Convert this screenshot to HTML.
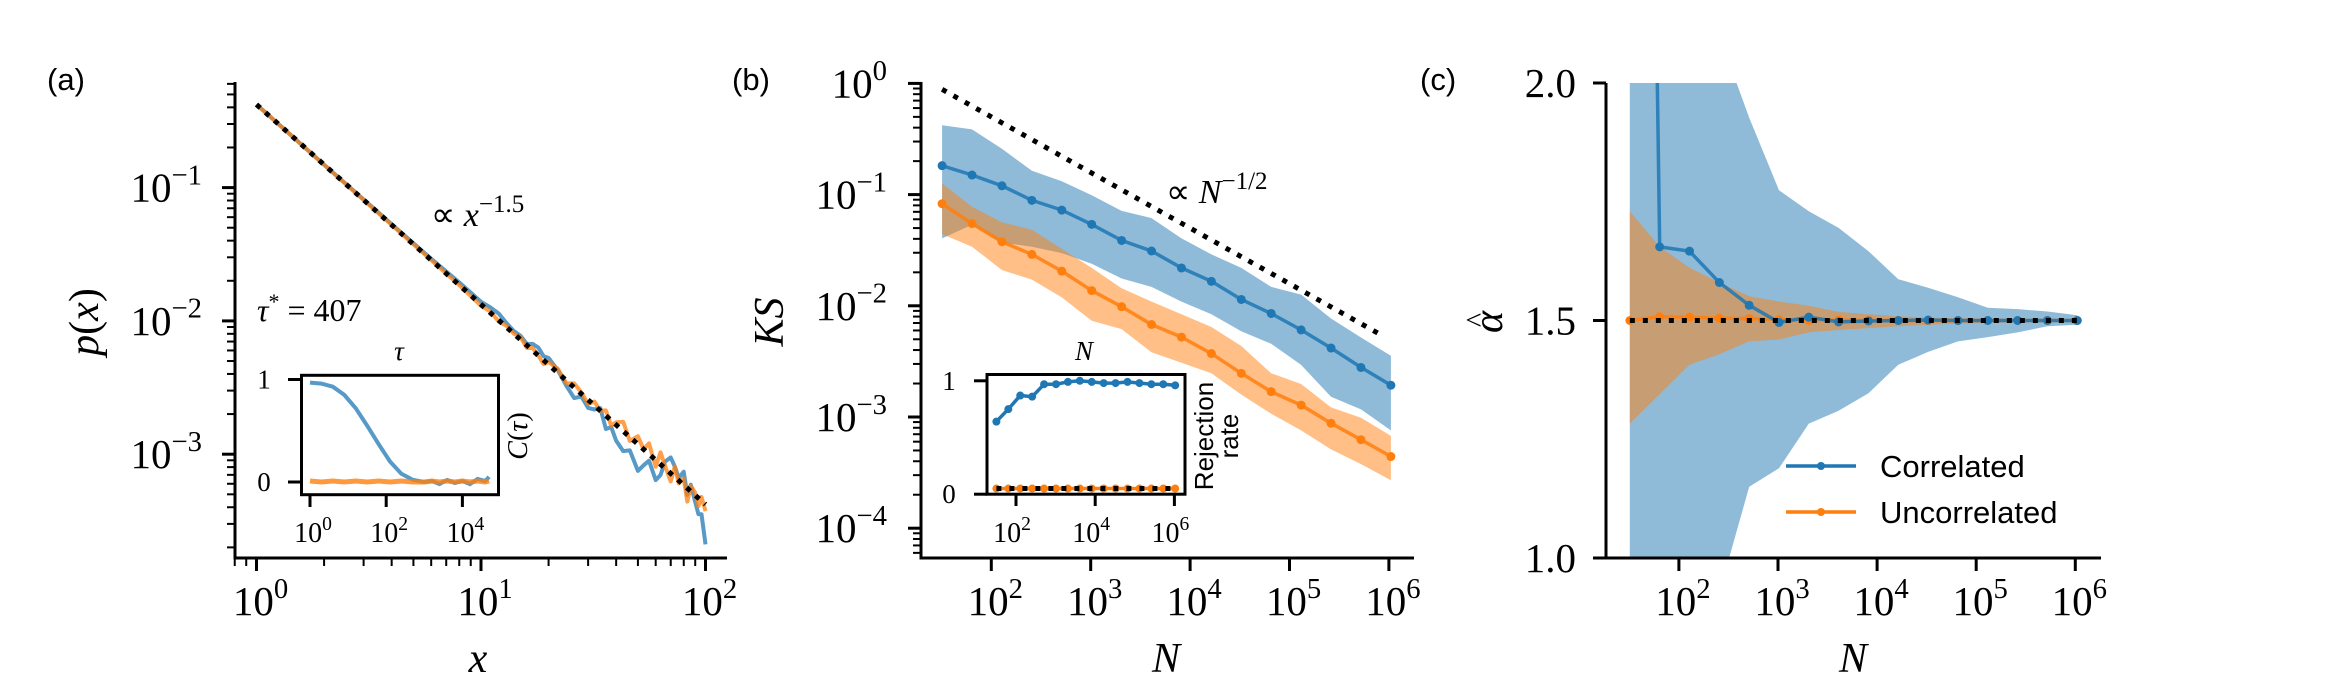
<!DOCTYPE html>
<html><head><meta charset="utf-8"><style>
html,body{margin:0;padding:0;background:#fff;width:2328px;height:698px;overflow:hidden;}
svg{display:block;}
text{font-family:"Liberation Serif",serif;fill:#000;}
.sans{font-family:"Liberation Sans",sans-serif;}
</style></head><body>
<svg id="fig" width="2328" height="698" viewBox="0 0 2328 698" xmlns="http://www.w3.org/2000/svg">
<defs>
<clipPath id="clipA"><rect x="235" y="82" width="492" height="476"/></clipPath>
<clipPath id="clipB"><rect x="921" y="82" width="493" height="476"/></clipPath>
<clipPath id="clipC"><rect x="1606" y="83" width="495" height="475"/></clipPath>
<clipPath id="clipIA"><rect x="301.5" y="375.3" width="197" height="119.4"/></clipPath>
<clipPath id="clipIB"><rect x="987" y="374.5" width="198" height="119.7"/></clipPath>
</defs>
</svg>
<script>
// ---------- DATA ----------
// Panel (a): p(x)
const xA = [1,2,4,6,8,10,11,12,13,14,15,16,17,18,19,20,22,24,26,28,30,32,34,36,38,40,43,46,50,53,56,60,63,66,70,73,76,80,83,86,90,93,96,100];
const pBlueDev = [0,0,0.005,0.01,0.02,0.02,0.04,0.05,0.03,0.02,0.03,0.01,0.05,0.06,0.03,0.05,0.02,-0.04,-0.08,-0.02,-0.06,-0.03,0.02,-0.1,-0.05,-0.12,-0.15,-0.1,-0.2,-0.12,-0.05,-0.15,-0.08,0.05,0.12,0.08,0.02,0.1,-0.05,0.05,-0.05,-0.12,-0.1,-0.3];
const pOrangeDev = [0,0,0,0,0,-0.01,0.01,-0.01,0.01,0.0,0.02,-0.02,0.02,0.0,-0.03,0.02,0.03,-0.02,0.03,0.01,-0.03,0.03,0.0,0.04,-0.04,0.02,0.07,-0.03,0.06,0.0,0.08,-0.05,0.09,0.02,-0.06,0.08,-0.02,0.05,-0.1,0.04,0.02,-0.06,0.03,-0.05];
const pLawA = 0.42, pLawExp = -1.5;
// Inset (a): autocorrelation
const tauLog = [0,0.3,0.6,0.9,1.2,1.5,1.8,2.1,2.4,2.7,3.0,3.2,3.4,3.6,3.8,4.0,4.2,4.4,4.6,4.7];
const cBlue = [0.97,0.96,0.93,0.85,0.72,0.55,0.37,0.2,0.08,0.02,0.0,0.01,-0.02,0.02,-0.01,0.01,-0.02,0.03,0.01,0.05];
const cOrange = [0.01,0.0,0.01,0.0,0.01,0.0,0.01,0.0,0.01,0.0,0.0,0.01,0.0,0.01,0.0,0.01,0.0,0.01,0.0,0.01];
// Panel (b): KS statistic vs N
const nLog = [1.505,1.806,2.107,2.408,2.709,3.010,3.311,3.612,3.913,4.214,4.515,4.816,5.117,5.418,5.719,6.020];
const ksBlue = [0.182,0.150,0.120,0.0888,0.0726,0.0540,0.0387,0.0311,0.0219,0.0166,0.0114,0.00853,0.00607,0.00417,0.00279,0.00193];
const ksBlueHi = [0.421,0.386,0.258,0.164,0.132,0.0986,0.0713,0.0615,0.0404,0.0290,0.0219,0.0148,0.0126,0.00768,0.00519,0.00356];
const ksBlueLo = [0.0404,0.0535,0.0370,0.0340,0.0298,0.0239,0.0176,0.0148,0.0109,0.00838,0.00590,0.00455,0.00294,0.00152,0.00117,0.000757];
const ksOrange = [0.0828,0.0549,0.0377,0.0290,0.0205,0.0137,0.00982,0.00679,0.00523,0.00372,0.00247,0.00169,0.00128,0.000879,0.000625,0.000441];
const ksOrangeHi = [0.126,0.0778,0.0564,0.0482,0.0325,0.0219,0.0144,0.0109,0.00838,0.00645,0.00435,0.00247,0.00198,0.00122,0.000984,0.000676];
const ksOrangeLo = [0.0441,0.0340,0.0210,0.0172,0.0119,0.00735,0.00617,0.00382,0.00307,0.00247,0.00159,0.00107,0.000757,0.000511,0.000377,0.000270];
const ksLawC = 5.0, ksLawRange = [1.505, 5.93];
// Inset (b): rejection rate
const rejBlue = [0.64,0.75,0.87,0.86,0.97,0.97,0.99,1.0,0.99,0.98,0.98,0.99,0.98,0.97,0.97,0.96];
const rejOrange = [0.05,0.05,0.05,0.05,0.05,0.05,0.05,0.05,0.05,0.05,0.05,0.05,0.05,0.05,0.05,0.05];
const rejLevel = 0.05;
// Panel (c): alpha hat
const aBlue = [6.0,1.655,1.646,1.580,1.532,1.496,1.507,1.497,1.499,1.500,1.501,1.500,1.500,1.500,1.500,1.500];
const aBlueHi = [2.6,2.4,2.25,2.10,1.927,1.774,1.730,1.695,1.646,1.587,1.569,1.549,1.527,1.524,1.519,1.511];
const aBlueLo = [0.5,0.6,0.8,0.927,1.150,1.189,1.283,1.310,1.347,1.407,1.434,1.456,1.465,1.475,1.488,1.491];
const aOrange = [1.500,1.508,1.507,1.505,1.504,1.502,1.500,1.501,1.500,1.500,1.500,1.500,1.500,1.500,1.500,1.500];
const aOrangeHi = [1.730,1.655,1.611,1.580,1.551,1.540,1.531,1.518,1.513,1.509,1.506,1.505,1.504,1.503,1.502,1.502];
const aOrangeLo = [1.283,1.345,1.407,1.429,1.456,1.460,1.475,1.480,1.484,1.488,1.491,1.493,1.495,1.496,1.497,1.498];
const aTrue = 1.5;

// ---------- HELPERS ----------
const NS = "http://www.w3.org/2000/svg";
const svg = document.getElementById('fig');
const BLUE = "#1f77b4", ORANGE = "#ff7f0e";
function mk(tag, attrs, parent) {
  const e = document.createElementNS(NS, tag);
  for (const k in attrs) e.setAttribute(k, attrs[k]);
  (parent || svg).appendChild(e);
  return e;
}
function group(name, parent) {
  const g = mk('g', {}, parent);
  
  
  return g;
}
function pts(xs, ys) { return xs.map((x, i) => x.toFixed(1) + ',' + ys[i].toFixed(1)).join(' '); }
function powText(parent, x, y, exp, size, anchor) {
  const t = mk('text', {x: x, y: y, 'font-size': size, 'text-anchor': anchor}, parent);
  const a = mk('tspan', {}, t); a.textContent = '10';
  const b = mk('tspan', {dy: -size * 0.42, 'font-size': size * 0.7}, t); b.textContent = exp;
  return t;
}
const L10 = Math.log10;

// ---------- PANEL A ----------
const XA = x => 256.5 + 224.5 * L10(x);
const YA = p => 187.6 - 133.3 * (L10(p) + 1);
const gA = group('panel-a');
let t = mk('text', {x: 47, y: 90, 'font-size': 31, class: 'sans'}, gA); t.textContent = '(a)';
 
const curvesA = mk('g', {'clip-path': 'url(#clipA)'}, gA);
const law = x => pLawA * Math.pow(x, pLawExp);
let e = mk('polyline', {points: pts(xA.map(XA), xA.map((x, i) => YA(law(x) * Math.pow(10, pBlueDev[i])))), fill: 'none', stroke: BLUE, 'stroke-opacity': 0.75, 'stroke-width': 4, 'stroke-linejoin': 'round'}, curvesA);
 
e = mk('polyline', {points: pts(xA.map(XA), xA.map((x, i) => YA(law(x) * Math.pow(10, pOrangeDev[i])))), fill: 'none', stroke: ORANGE, 'stroke-opacity': 0.75, 'stroke-width': 4, 'stroke-linejoin': 'round'}, curvesA);
 
e = mk('line', {x1: XA(1), y1: YA(law(1)), x2: XA(100), y2: YA(law(100)), stroke: '#000', 'stroke-width': 5, 'stroke-dasharray': '5 7'}, curvesA);
 
e = mk('path', {d: 'M235,82 V558 H727', fill: 'none', stroke: '#000', 'stroke-width': 3}, gA);
 
const tkA = group('panel-a-ticks', gA);
for (let d = -1; d <= 2; d++) for (let m = 1; m <= 9; m++) {
  const v = m * Math.pow(10, d), x = XA(v);
  if (x < 234 || x > 728) continue;
  mk('line', {x1: x, y1: 558, x2: x, y2: m === 1 ? 571 : 566, stroke: '#000', 'stroke-width': m === 1 ? 3 : 2}, tkA);
}
for (let d = -4; d <= 0; d++) for (let m = 1; m <= 9; m++) {
  const v = m * Math.pow(10, d), y = YA(v);
  if (y < 81 || y > 559) continue;
  mk('line', {x1: 235, y1: y, x2: m === 1 ? 222 : 227, y2: y, stroke: '#000', 'stroke-width': m === 1 ? 3 : 2}, tkA);
}
[0, 1, 2].forEach(d => { const tt = powText(gA, XA(Math.pow(10, d)) + 4, 615, String(d), 41, 'middle');   });
[-1, -2, -3].forEach(d => { const tt = powText(gA, 202, YA(Math.pow(10, d)) + 14, '\u2212' + (-d), 41, 'end');   });
t = mk('text', {x: 478, y: 672, 'font-size': 42, 'font-style': 'italic', 'text-anchor': 'middle'}, gA); t.textContent = 'x';
 
t = mk('text', {x: 0, y: 0, 'font-size': 42, 'text-anchor': 'middle', transform: 'translate(98,322) rotate(-90)'}, gA);
t.innerHTML = '<tspan font-style="italic">p</tspan>(<tspan font-style="italic">x</tspan>)';
 
t = mk('text', {x: 431, y: 226, 'font-size': 34}, gA);
t.innerHTML = '\u221D <tspan font-style="italic">x</tspan><tspan dy="-14" font-size="25">\u22121.5</tspan>';
 
t = mk('text', {x: 257, y: 321, 'font-size': 32}, gA);
t.innerHTML = '<tspan font-style="italic">\u03C4</tspan><tspan dy="-12" font-size="22">*</tspan><tspan dy="12"> = 407</tspan>';
 

// inset A
const XIA = l => 310 + 38.1 * l;
const YIA = c => 482 - 102.5 * c;
const gIA = group('inset-a', gA);
const ciA = mk('g', {'clip-path': 'url(#clipIA)'}, gIA);
e = mk('polyline', {points: pts(tauLog.map(XIA), cBlue.map(YIA)), fill: 'none', stroke: BLUE, 'stroke-opacity': 0.75, 'stroke-width': 4}, ciA);
 
e = mk('polyline', {points: pts(tauLog.map(XIA), cOrange.map(YIA)), fill: 'none', stroke: ORANGE, 'stroke-opacity': 0.8, 'stroke-width': 5}, ciA);
 
e = mk('rect', {x: 301.5, y: 375.3, width: 197, height: 119.4, fill: 'none', stroke: '#000', 'stroke-width': 3}, gIA);
 
[0, 2, 4].forEach(d => { mk('line', {x1: XIA(d), y1: 494.7, x2: XIA(d), y2: 507, stroke: '#000', 'stroke-width': 3}, gIA); const tt = powText(gIA, XIA(d) + 3, 542, String(d), 28, 'middle');   });
[[1, '1'], [0, '0']].forEach(([v, s]) => { mk('line', {x1: 301.5, y1: YIA(v), x2: 288, y2: YIA(v), stroke: '#000', 'stroke-width': 3}, gIA); const tt = mk('text', {x: 264, y: YIA(v) + 9, 'font-size': 27, 'text-anchor': 'middle'}, gIA); tt.textContent = s;   });
t = mk('text', {x: 399, y: 360, 'font-size': 27, 'font-style': 'italic', 'text-anchor': 'middle'}, gIA); t.textContent = '\u03C4';
 
t = mk('text', {x: 0, y: 0, 'font-size': 28, 'text-anchor': 'middle', transform: 'translate(527,436) rotate(-90)'}, gIA);
t.innerHTML = '<tspan font-style="italic">C</tspan>(<tspan font-style="italic">\u03C4</tspan>)';
 

// ---------- PANEL B ----------
const XB = l => 991.3 + 99.4 * (l - 2);
const YB = v => 83.4 - 111.2 * L10(v);
const gB = group('panel-b');
t = mk('text', {x: 732, y: 90, 'font-size': 31, class: 'sans'}, gB); t.textContent = '(b)';
 
const cB = mk('g', {'clip-path': 'url(#clipB)'}, gB);
e = mk('polygon', {points: pts(nLog.map(XB).concat(nLog.map(XB).reverse()), ksBlueHi.map(YB).concat(ksBlueLo.map(YB).reverse())), fill: BLUE, 'fill-opacity': 0.5}, cB);
 
e = mk('polygon', {points: pts(nLog.map(XB).concat(nLog.map(XB).reverse()), ksOrangeHi.map(YB).concat(ksOrangeLo.map(YB).reverse())), fill: ORANGE, 'fill-opacity': 0.5}, cB);
 
e = mk('line', {x1: XB(ksLawRange[0]), y1: YB(ksLawC * Math.pow(10, -ksLawRange[0] / 2)), x2: XB(ksLawRange[1]), y2: YB(ksLawC * Math.pow(10, -ksLawRange[1] / 2)), stroke: '#000', 'stroke-width': 5, 'stroke-dasharray': '5 8'}, cB);
 
[[ksBlue, BLUE, 'ks-correlated'], [ksOrange, ORANGE, 'ks-uncorrelated']].forEach(([arr, col, nm]) => {
  const g = mk('g', {}, cB);
  const pl = mk('polyline', {points: pts(nLog.map(XB), arr.map(YB)), fill: 'none', stroke: col, 'stroke-opacity': 0.85, 'stroke-width': 3.5}, g);
   
  arr.forEach((v, i) => { const c = mk('circle', {cx: XB(nLog[i]), cy: YB(v), r: 4.5, fill: col}, g);   });
});
e = mk('path', {d: 'M921,82 V558 H1414', fill: 'none', stroke: '#000', 'stroke-width': 3}, gB);
 
const tkB = group('panel-b-ticks', gB);
for (let d = 2; d <= 6; d++) mk('line', {x1: XB(d), y1: 558, x2: XB(d), y2: 571, stroke: '#000', 'stroke-width': 3}, tkB);
for (let d = -5; d <= 0; d++) for (let m = 1; m <= 9; m++) {
  const y = YB(m * Math.pow(10, d));
  if (y < 81 || y > 559) continue;
  mk('line', {x1: 921, y1: y, x2: m === 1 ? 908 : 913, y2: y, stroke: '#000', 'stroke-width': m === 1 ? 3 : 2}, tkB);
}
[2, 3, 4, 5, 6].forEach(d => { const tt = powText(gB, XB(d) + 4, 615, String(d), 41, 'middle');   });
[0, -1, -2, -3, -4].forEach(d => { const tt = powText(gB, 887, YB(Math.pow(10, d)) + 14, d === 0 ? '0' : '\u2212' + (-d), 41, 'end');   });
t = mk('text', {x: 1166, y: 672, 'font-size': 42, 'font-style': 'italic', 'text-anchor': 'middle'}, gB); t.textContent = 'N';
 
t = mk('text', {x: 0, y: 0, 'font-size': 42, 'font-style': 'italic', 'text-anchor': 'middle', transform: 'translate(783,322) rotate(-90)'}, gB); t.textContent = 'KS';
 
t = mk('text', {x: 1166, y: 203, 'font-size': 34}, gB);
t.innerHTML = '\u221D <tspan font-style="italic">N</tspan><tspan dy="-14" font-size="25">\u22121/2</tspan>';
 
// inset B
const XIB = l => 1016 + 39.6 * (l - 2);
const YIB = v => 494.2 - 113.4 * v;
const gIB = group('inset-b', gB);
const ciB = mk('g', {'clip-path': 'url(#clipIB)'}, gIB);
[[rejBlue, BLUE, 'rejection-correlated'], [rejOrange, ORANGE, 'rejection-uncorrelated']].forEach(([arr, col, nm]) => {
  const pl = mk('polyline', {points: pts(nLog.map(XIB), arr.map(YIB)), fill: 'none', stroke: col, 'stroke-width': 3.5}, ciB);
   
  arr.forEach((v, i) => { const c = mk('circle', {cx: XIB(nLog[i]), cy: YIB(v), r: 4, fill: col}, ciB);   });
});
e = mk('line', {x1: XIB(nLog[0]), y1: YIB(rejLevel), x2: XIB(nLog[nLog.length - 1]), y2: YIB(rejLevel), stroke: '#000', 'stroke-width': 5, 'stroke-dasharray': '5 8'}, ciB);
 
e = mk('rect', {x: 987, y: 374.5, width: 198, height: 119.7, fill: 'none', stroke: '#000', 'stroke-width': 3}, gIB);
 
[2, 4, 6].forEach(d => { mk('line', {x1: XIB(d), y1: 494.2, x2: XIB(d), y2: 506, stroke: '#000', 'stroke-width': 3}, gIB); const tt = powText(gIB, XIB(d) - 4, 542, String(d), 28, 'middle');   });
[[1, '1'], [0, '0']].forEach(([v, s]) => { mk('line', {x1: 987, y1: YIB(v), x2: 974, y2: YIB(v), stroke: '#000', 'stroke-width': 3}, gIB); const tt = mk('text', {x: 949, y: YIB(v) + 9, 'font-size': 27, 'text-anchor': 'middle'}, gIB); tt.textContent = s;   });
t = mk('text', {x: 1084, y: 360, 'font-size': 27, 'font-style': 'italic', 'text-anchor': 'middle'}, gIB); t.textContent = 'N';
 
t = mk('text', {x: 0, y: 0, 'font-size': 26, 'text-anchor': 'middle', class: 'sans', transform: 'translate(1213,436) rotate(-90)'}, gIB); t.textContent = 'Rejection';
 
t = mk('text', {x: 0, y: 0, 'font-size': 26, 'text-anchor': 'middle', class: 'sans', transform: 'translate(1238,436) rotate(-90)'}, gIB); t.textContent = 'rate';
 

// ---------- PANEL C ----------
const XC = l => 1678.9 + 99.1 * (l - 2);
const YC = a => 558 - 475 * (a - 1);
const gC = group('panel-c');
t = mk('text', {x: 1420, y: 90, 'font-size': 31, class: 'sans'}, gC); t.textContent = '(c)';
 
const cC = mk('g', {'clip-path': 'url(#clipC)'}, gC);
e = mk('polygon', {points: pts(nLog.map(XC).concat(nLog.map(XC).reverse()), aBlueHi.map(YC).concat(aBlueLo.map(YC).reverse())), fill: BLUE, 'fill-opacity': 0.5}, cC);
 
e = mk('polygon', {points: pts(nLog.map(XC).concat(nLog.map(XC).reverse()), aOrangeHi.map(YC).concat(aOrangeLo.map(YC).reverse())), fill: ORANGE, 'fill-opacity': 0.5}, cC);
 
[[aOrange, ORANGE, 'alpha-uncorrelated'], [aBlue, BLUE, 'alpha-correlated']].forEach(([arr, col, nm]) => {
  const g = mk('g', {}, cC);
  const pl = mk('polyline', {points: pts(nLog.map(XC), arr.map(YC)), fill: 'none', stroke: col, 'stroke-opacity': 0.85, 'stroke-width': 3.5}, g);
   
  arr.forEach((v, i) => { const c = mk('circle', {cx: XC(nLog[i]), cy: YC(v), r: 4.5, fill: col}, g);   });
});
e = mk('line', {x1: XC(nLog[0]), y1: YC(aTrue), x2: XC(nLog[nLog.length - 1]), y2: YC(aTrue), stroke: '#000', 'stroke-width': 5, 'stroke-dasharray': '5 8'}, cC);
 
e = mk('path', {d: 'M1606,83 V558 H2101', fill: 'none', stroke: '#000', 'stroke-width': 3}, gC);
 
const tkC = group('panel-c-ticks', gC);
for (let d = 2; d <= 6; d++) mk('line', {x1: XC(d), y1: 558, x2: XC(d), y2: 571, stroke: '#000', 'stroke-width': 3}, tkC);
[1.0, 1.5, 2.0].forEach(v => { mk('line', {x1: 1606, y1: YC(v), x2: 1593, y2: YC(v), stroke: '#000', 'stroke-width': 3}, tkC); const tt = mk('text', {x: 1576, y: YC(v) + 14, 'font-size': 41, 'text-anchor': 'end'}, gC); tt.textContent = v.toFixed(1);   });
[2, 3, 4, 5, 6].forEach(d => { const tt = powText(gC, XC(d) + 4, 615, String(d), 41, 'middle');   });
t = mk('text', {x: 1853, y: 672, 'font-size': 42, 'font-style': 'italic', 'text-anchor': 'middle'}, gC); t.textContent = 'N';
 
// alpha-hat y title: alpha with a hat drawn as separate text above
const ah = mk('g', {transform: 'translate(1502,322) rotate(-90)'}, gC);


t = mk('text', {x: 0, y: 0, 'font-size': 42, 'font-style': 'italic', 'text-anchor': 'middle'}, ah); t.textContent = '\u03B1';
t = mk('text', {x: 2, y: -16, 'font-size': 30, 'text-anchor': 'middle'}, ah); t.textContent = '^';
// legend
const lg = group('legend', gC);
[['Correlated', BLUE, 466], ['Uncorrelated', ORANGE, 512]].forEach(([s, col, y]) => {
  const g = mk('g', {}, lg);
  
  
  mk('line', {x1: 1786, y1: y, x2: 1856, y2: y, stroke: col, 'stroke-width': 3.5}, g);
  mk('circle', {cx: 1821, cy: y, r: 4, fill: col}, g);
  const tt = mk('text', {x: 1880, y: y + 11, 'font-size': 31, class: 'sans'}, g); tt.textContent = s;
});
</script>
</body></html>
